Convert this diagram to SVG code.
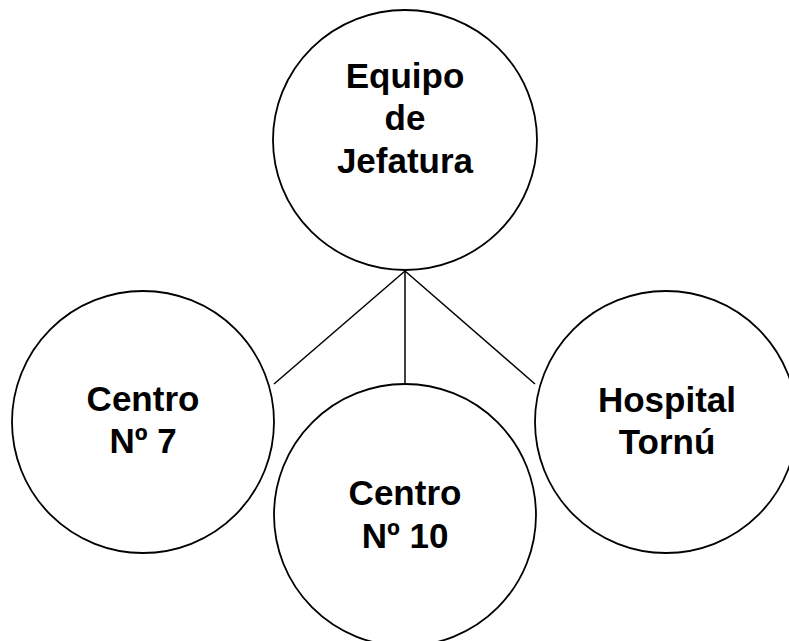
<svg xmlns="http://www.w3.org/2000/svg" width="789" height="641" viewBox="0 0 789 641">
<style>
.node{fill:#fff;stroke:#000;stroke-width:1.8}
.lbl{font-family:"Liberation Sans",Arial,sans-serif;font-weight:bold;font-size:35px;fill:#000;text-anchor:middle}
.conn{stroke:#000;stroke-width:1.5;fill:none}
</style>
<rect width="789" height="641" fill="#fff"/>
<g id="connectors">
<line class="conn" x1="405" y1="271" x2="274" y2="384"/>
<line class="conn" x1="405" y1="271" x2="405" y2="384"/>
<line class="conn" x1="405" y1="271" x2="535" y2="384"/>
</g>
<g id="n-jefatura">
<ellipse class="node" cx="405" cy="140" rx="132" ry="130"/>
<text class="lbl" x="405" y="88">Equipo</text>
<text class="lbl" x="405" y="130">de</text>
<text class="lbl" x="405" y="173">Jefatura</text>
</g>
<g id="n-centro7">
<circle class="node" cx="143" cy="422" r="131"/>
<text class="lbl" x="143" y="411">Centro</text>
<text class="lbl" x="143" y="453">Nº 7</text>
</g>
<g id="n-centro10">
<circle class="node" cx="405" cy="515" r="131"/>
<text class="lbl" x="405" y="505">Centro</text>
<text class="lbl" x="405" y="548">Nº 10</text>
</g>
<g id="n-hospital">
<circle class="node" cx="666" cy="422" r="131"/>
<text class="lbl" x="667" y="412">Hospital</text>
<text class="lbl" x="667" y="454">Tornú</text>
</g>
</svg>
